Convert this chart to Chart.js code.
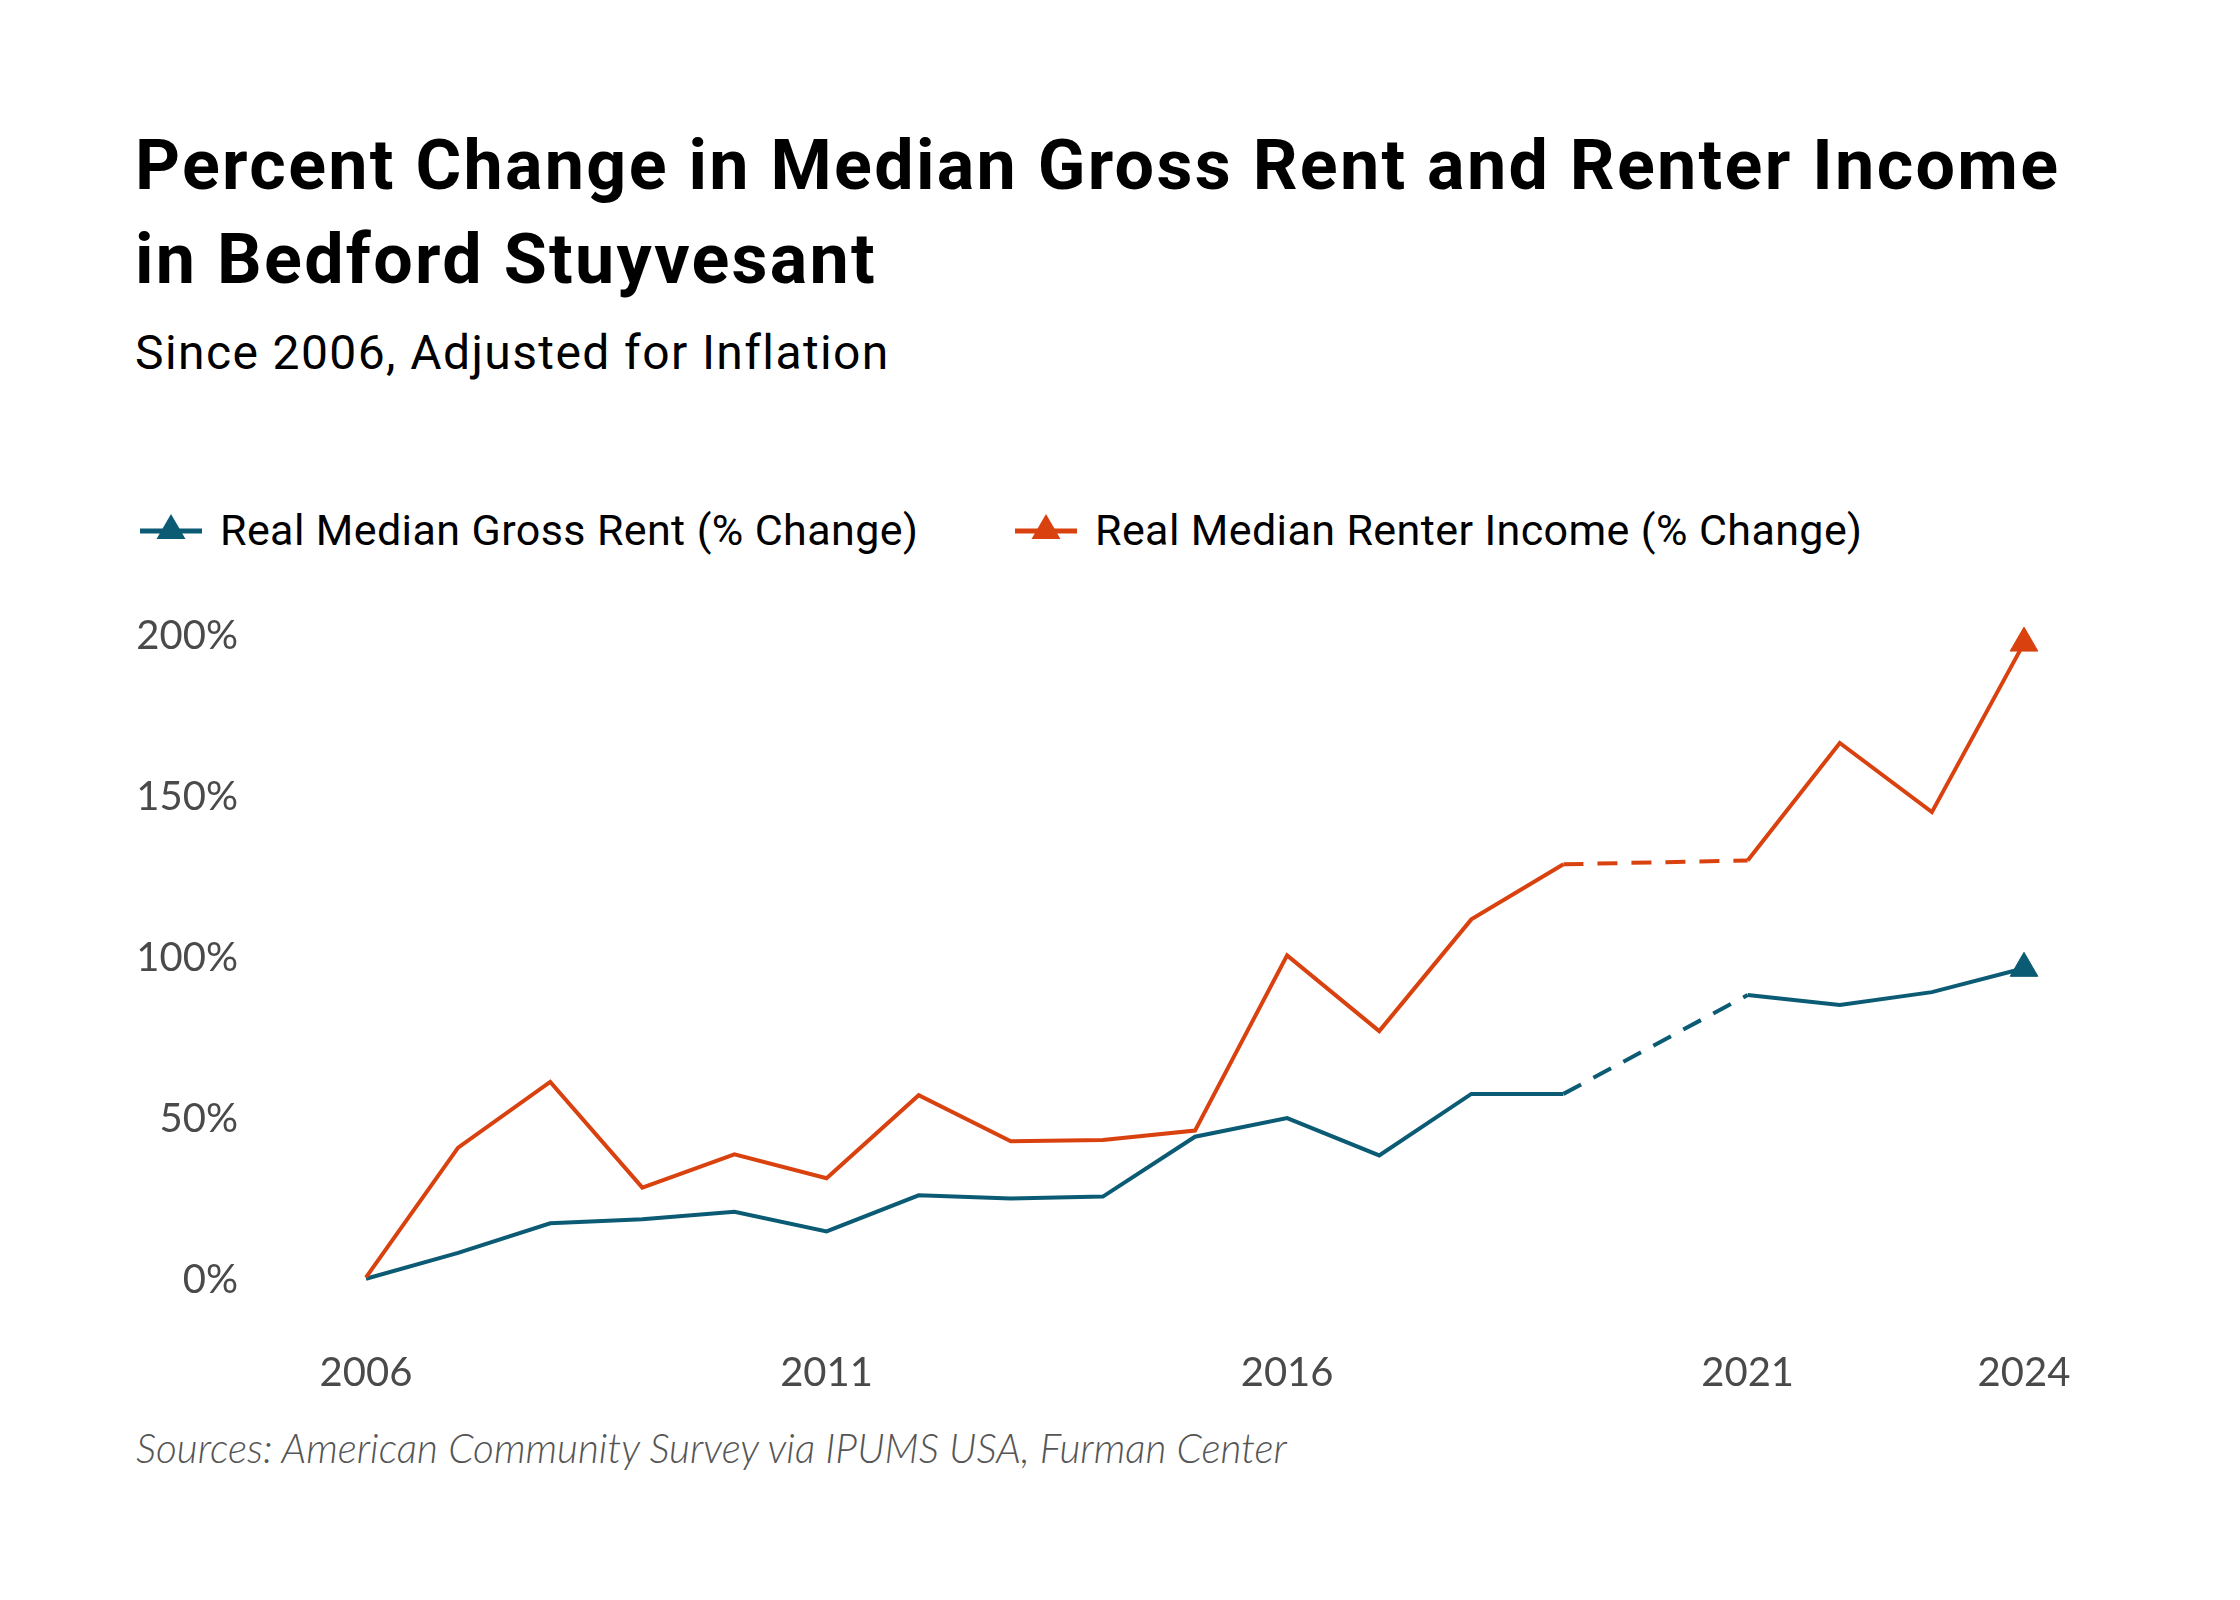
<!DOCTYPE html>
<html lang="en">
<head>
  <meta charset="UTF-8" />
  <title>Percent Change in Median Gross Rent and Renter Income in Bedford Stuyvesant</title>
  <style>
    html, body {
      margin: 0;
      padding: 0;
      background: #fff;
    }
    body {
      width: 2240px;
      height: 1600px;
      position: relative;
      overflow: hidden;
      font-family: Roboto, sans-serif;
      color: #000;
    }
    .title {
      position: absolute;
      left: 135px;
      top: 118px;
      font-weight: 700;
      font-size: 70px;
      line-height: 94px;
      letter-spacing: 2.3px;
      margin: 0;
    }
    .subtitle {
      position: absolute;
      left: 135px;
      top: 323px;
      font-size: 48px;
      line-height: 60px;
      letter-spacing: 1.4px;
    }
    .legend-item {
      position: absolute;
      top: 503px;
      height: 54px;
      display: flex;
      align-items: center;
      font-size: 43px;
      letter-spacing: 0.4px;
    }
    .legend-item svg {
      margin-right: 18px;
    }
    .chart-box {
      position: absolute;
      left: 0;
      top: 600px;
      width: 2240px;
      height: 820px;
    }
    .source {
      position: absolute;
      left: 136px;
      top: 1424px;
      font-family: Lato, sans-serif;
      font-style: italic;
      font-weight: 300;
      font-size: 40.5px;
      line-height: 48px;
      color: #555;
    }
  </style>
</head>
<body>
  <h1 class="title">Percent Change in Median Gross Rent and Renter Income<br>in Bedford Stuyvesant</h1>
  <div class="subtitle">Since 2006, Adjusted for Inflation</div>

  <div id="legend"></div>

  <div class="chart-box">
    <canvas id="rentChart"></canvas>
  </div>

  <div class="source">Sources: American Community Survey via IPUMS USA, Furman Center</div>

  <script src="https://cdn.jsdelivr.net/npm/chart.js@4.4.1/dist/chart.umd.min.js"></script>
  <script>
    // Data (percent change since 2006, inflation adjusted); 2020 has no data
    const years = ['2006', '2007', '2008', '2009', '2010', '2011', '2012', '2013', '2014', '2015',
                   '2016', '2017', '2018', '2019', '2020', '2021', '2022', '2023', '2024'];
    const shownYears = ['2006', '2011', '2016', '2021', '2024'];
    const rentChange = [0.4, 8.4, 17.6, 18.9, 21.2, 15.1, 26.3, 25.3, 25.9, 44.5,
                        50.3, 38.7, 57.8, 57.8, null, 88.5, 85.4, 89.4, 96.8];
    const incomeChange = [0.8, 41.1, 61.5, 28.7, 39.0, 31.6, 57.4, 43.1, 43.5, 46.4,
                          100.8, 77.3, 112.0, 129.1, null, 130.3, 166.8, 145.3, 197.8];
    const yTicks = [0, 50, 100, 150, 200];

    const tealColor = '#0b5b74';
    const orangeColor = '#d9420f';
    const legendNames = ['Real Median Gross Rent (% Change)', 'Real Median Renter Income (% Change)'];

    // dashed segment across the missing year
    const gapDash = ctx => (ctx.p0.skip || ctx.p1.skip ? [20, 14] : undefined);
    // marker only on the last point
    const lastOnly = value => ctx => (ctx.dataIndex === years.length - 1 ? value : 0);

    function makeSeries(label, data, color) {
      return {
        label: label,
        data: data,
        borderColor: color,
        backgroundColor: color,
        borderWidth: 4,
        spanGaps: true,
        clip: false,
        tension: 0,
        pointStyle: 'triangle',
        pointRadius: lastOnly(16),
        pointHoverRadius: lastOnly(16),
        pointBorderWidth: 1,
        segment: { borderDash: gapDash }
      };
    }

    const rentCtx = document.getElementById('rentChart').getContext('2d');
    const rentChart = new Chart(rentCtx, {
      type: 'line',
      data: {
        labels: years,
        datasets: [
          makeSeries(legendNames[1], incomeChange, orangeColor),
          makeSeries(legendNames[0], rentChange, tealColor)
        ]
      },
      options: {
        responsive: true,
        maintainAspectRatio: false,
        animation: false,
        layout: { padding: { top: 36, right: 216, bottom: 0, left: 0 } },
        plugins: {
          legend: { display: false },
          tooltip: { enabled: false }
        },
        scales: {
          x: {
            grid: { display: false, drawTicks: false },
            border: { display: false },
            afterFit: scale => {
              scale.height = 140;
              scale.paddingLeft = 0;
              scale.paddingRight = 0;
            },
            ticks: {
              autoSkip: false,
              maxRotation: 0,
              padding: 69,
              color: '#4a4a4a',
              font: { family: 'Lato', size: 40 },
              callback: function (value) {
                const lbl = this.getLabelForValue(value);
                return shownYears.includes(lbl) ? lbl : '';
              }
            }
          },
          y: {
            min: 0,
            max: 200,
            grid: { display: false, drawTicks: false },
            border: { display: false },
            afterFit: scale => {
              // wide label gap on the left, but no extra room above/below
              scale.width = 366;
              scale.paddingTop = 0;
              scale.paddingBottom = 0;
            },
            afterBuildTicks: scale => { scale.ticks = yTicks.map(v => ({ value: v })); },
            ticks: {
              padding: 128,
              color: '#4a4a4a',
              font: { family: 'Lato', size: 40 },
              callback: value => value + '%'
            }
          }
        }
      }
    });

    // html legend: line with a triangle on top, like the chart markers
    const legendEl = document.getElementById('legend');
    const legendLeft = [140, 1015];
    [[legendNames[0], tealColor], [legendNames[1], orangeColor]].forEach(([name, color], i) => {
      const item = document.createElement('div');
      item.className = 'legend-item';
      item.style.left = legendLeft[i] + 'px';
      item.innerHTML =
        '<svg width="62" height="34" viewBox="0 0 62 34">' +
        '<line x1="0" y1="18" x2="62" y2="18" stroke="' + color + '" stroke-width="5"/>' +
        '<polygon points="31,1 45.5,26 16.5,26" fill="' + color + '"/></svg>' +
        '<span>' + name + '</span>';
      legendEl.appendChild(item);
    });
  </script>
</body>
</html>
